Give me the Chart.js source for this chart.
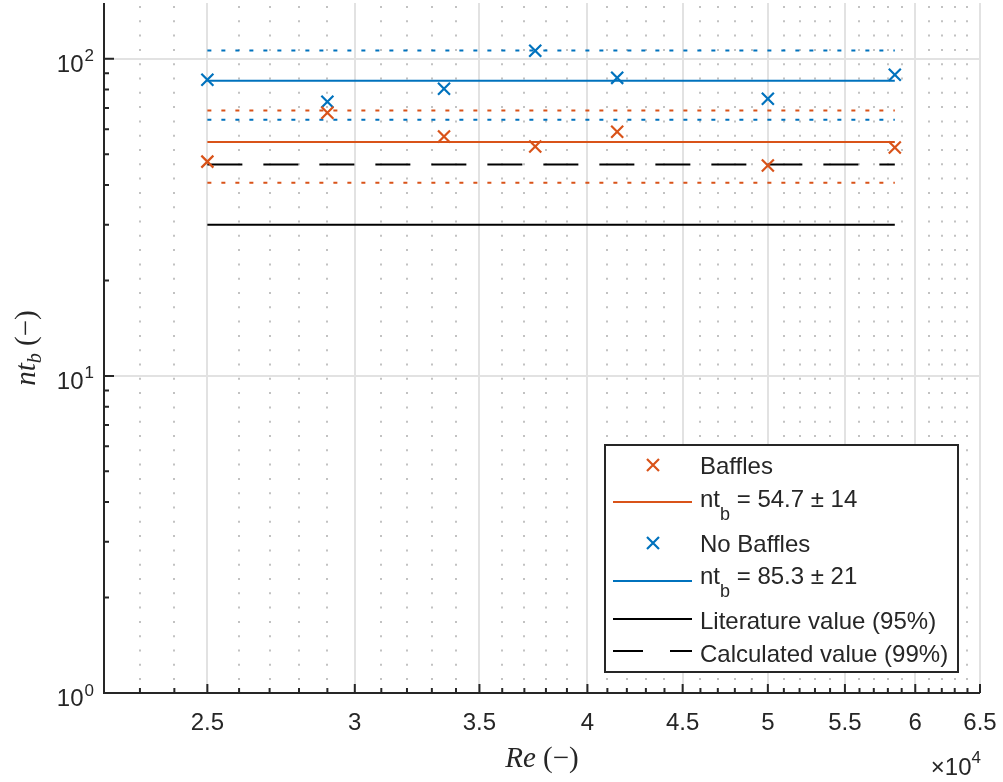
<!DOCTYPE html>
<html>
<head>
<meta charset="utf-8">
<script src="https://cdn.jsdelivr.net/npm/chart.js@4.4.1/dist/chart.umd.min.js"></script>
<style>
  html, body { margin: 0; padding: 0; background: #fff; }
  #wrap { position: relative; width: 1003px; height: 782px; }
  #chart { position: absolute; left: 0; top: 0; }
  #overlay { position: absolute; left: 0; top: 0; pointer-events: none; }
</style>
</head>
<body>
<div id="wrap">
  <canvas id="chart" width="1003" height="782"></canvas>
  <svg id="overlay" width="1003" height="782" xmlns="http://www.w3.org/2000/svg"></svg>
</div>
<script>
// Reynolds numbers of the runs
const re = [25000, 29000, 33500, 37500, 41500, 50000, 58500];
// nt_b
const baffles = [47.4, 67.6, 56.9, 52.9, 58.9, 46.1, 52.5];
const noBaffles = [85.9, 73.2, 80.5, 106.0, 87.1, 74.8, 89.1];

const baffleMean = 54.7, baffleStd = 14;
const noBaffleMean = 85.3, noBaffleStd = 21;
const literatureValue = 30;
const calculatedValue = 46.4;

// axes
const xMin = 22000, xMax = 65000;
const yMin = 1, yMax = 150;
const xMajor = [25000, 30000, 35000, 40000, 45000, 50000, 55000, 60000, 65000];
const xMinor = [22000, 23000, 24000, 26000, 27000, 28000, 29000, 31000, 32000, 33000, 34000,
  36000, 37000, 38000, 39000, 41000, 42000, 43000, 44000, 46000, 47000, 48000, 49000,
  51000, 52000, 53000, 54000, 56000, 57000, 58000, 59000, 61000, 62000, 63000, 64000];
const yMajor = [1, 10, 100];
const yMajorExp = ['0', '1', '2'];
const yMinor = [2, 3, 4, 5, 6, 7, 8, 9, 20, 30, 40, 50, 60, 70, 80, 90];

const ORANGE = '#D95319', BLUE = '#0072BD', INK = '#262626';

const hline = (v) => [{x: re[0], y: v}, {x: re[re.length - 1], y: v}];
const pts = (ys) => re.map((x, i) => ({x: x, y: ys[i]}));

function lineSet(label, v, color, dash) {
  return {
    label: label, data: hline(v), showLine: true, pointRadius: 0,
    borderColor: color, borderWidth: 2, borderDash: dash || [], order: 2
  };
}
function markSet(label, ys, color) {
  return {
    label: label, data: pts(ys), showLine: false, pointStyle: 'crossRot',
    pointRadius: 8.5, pointHoverRadius: 8.5, borderColor: color, backgroundColor: color,
    pointBorderWidth: 2.2, order: 1
  };
}

function noPad(scale) {
  scale.paddingLeft = 0; scale.paddingRight = 0;
  scale.paddingTop = 0; scale.paddingBottom = 0;
}

// grid, ticks, axis lines and y labels in the MATLAB look
const matlabAxes = {
  id: 'matlabAxes',
  beforeDatasetsDraw(chart) {
    const {ctx, chartArea: a, scales: {x, y}} = chart;
    ctx.save();
    ctx.strokeStyle = '#c2c2c2';
    ctx.lineWidth = 2;
    ctx.setLineDash([2, 12.3]);
    xMinor.forEach(v => {
      const px = Math.round(x.getPixelForValue(v));
      ctx.beginPath(); ctx.moveTo(px, a.top + 3); ctx.lineTo(px, a.bottom); ctx.stroke();
    });
    ctx.setLineDash([]);
    ctx.strokeStyle = '#e2e2e2';
    xMajor.forEach(v => {
      const px = Math.round(x.getPixelForValue(v));
      ctx.beginPath(); ctx.moveTo(px, a.top); ctx.lineTo(px, a.bottom); ctx.stroke();
    });
    yMajor.slice(1).forEach(v => {
      const py = Math.round(y.getPixelForValue(v));
      ctx.beginPath(); ctx.moveTo(a.left, py); ctx.lineTo(a.right, py); ctx.stroke();
    });
    ctx.restore();
  },
  afterDatasetsDraw(chart) {
    const {ctx, chartArea: a, scales: {x, y}} = chart;
    ctx.save();
    ctx.strokeStyle = INK;
    ctx.lineWidth = 2;
    ctx.beginPath();
    ctx.moveTo(a.left, a.top); ctx.lineTo(a.left, a.bottom); ctx.lineTo(a.right, a.bottom);
    ctx.stroke();
    ctx.beginPath();
    yMajor.forEach(v => { const py = y.getPixelForValue(v); ctx.moveTo(a.left, py); ctx.lineTo(a.left + 10, py); });
    yMinor.forEach(v => { const py = y.getPixelForValue(v); ctx.moveTo(a.left, py); ctx.lineTo(a.left + 5, py); });
    xMajor.forEach(v => { const px = x.getPixelForValue(v); ctx.moveTo(px, a.bottom); ctx.lineTo(px, a.bottom - 9); });
    xMinor.forEach(v => { const px = x.getPixelForValue(v); ctx.moveTo(px, a.bottom); ctx.lineTo(px, a.bottom - 5); });
    ctx.stroke();

    // y labels 10^n
    ctx.fillStyle = INK;
    ctx.textAlign = 'right';
    ctx.textBaseline = 'alphabetic';
    yMajor.forEach((v, i) => {
      const py = y.getPixelForValue(v);
      ctx.font = '17px "Liberation Sans", Arial, sans-serif';
      const w = ctx.measureText(yMajorExp[i]).width;
      ctx.fillText(yMajorExp[i], 94, py + 2.5);
      ctx.font = '24px "Liberation Sans", Arial, sans-serif';
      ctx.fillText('10', 94 - w - 1, py + 13);
    });
    ctx.restore();
  }
};

Chart.defaults.font.family = '"Liberation Sans", Arial, sans-serif';
Chart.defaults.color = INK;

new Chart(document.getElementById('chart'), {
  type: 'scatter',
  data: {
    datasets: [
      markSet('Baffles', baffles, ORANGE),
      lineSet('Baffles mean', baffleMean, ORANGE),
      markSet('No Baffles', noBaffles, BLUE),
      lineSet('No Baffles mean', noBaffleMean, BLUE),
      lineSet('Literature value (95%)', literatureValue, '#000'),
      lineSet('Calculated value (99%)', calculatedValue, '#000', [35, 21]),
      lineSet('Baffles +std', baffleMean + baffleStd, ORANGE, [4, 10]),
      lineSet('Baffles -std', baffleMean - baffleStd, ORANGE, [4, 10]),
      lineSet('No Baffles +std', noBaffleMean + noBaffleStd, BLUE, [4, 10]),
      lineSet('No Baffles -std', noBaffleMean - noBaffleStd, BLUE, [4, 10])
    ]
  },
  options: {
    responsive: false,
    animation: false,
    devicePixelRatio: 1,
    layout: { autoPadding: false, padding: { top: 3, right: 23, left: 0, bottom: 0 } },
    plugins: { legend: { display: false }, tooltip: { enabled: false } },
    scales: {
      x: {
        type: 'logarithmic', min: xMin, max: xMax,
        grid: { display: false, drawTicks: false },
        border: { display: false },
        afterBuildTicks: (scale) => {
          scale.ticks = xMajor.map(v => ({ value: v }));
        },
        afterFit: (scale) => { scale.height = 89; noPad(scale); },
        ticks: {
          autoSkip: false, maxRotation: 0, padding: 16,
          font: { size: 24 },
          callback: (v) => String(v / 1e4)
        }
      },
      y: {
        type: 'logarithmic', min: yMin, max: yMax,
        grid: { display: false, drawTicks: false },
        border: { display: false },
        ticks: { display: false },
        afterFit: (scale) => { scale.width = 104; noPad(scale); }
      }
    }
  },
  plugins: [matlabAxes]
});

// legend, axis titles and exponent as SVG text
const svg = document.getElementById('overlay');
svg.innerHTML = `
  <g font-family="Liberation Sans, Arial, sans-serif" fill="${INK}">
    <rect x="605" y="445" width="353" height="227" fill="#fff" stroke="${INK}" stroke-width="2"/>
    <g stroke-width="2" fill="none">
      <path d="M647 459 L659 471 M659 459 L647 471" stroke="${ORANGE}" stroke-width="2.2"/>
      <line x1="613" y1="502" x2="692" y2="502" stroke="${ORANGE}"/>
      <path d="M647 537 L659 549 M659 537 L647 549" stroke="${BLUE}" stroke-width="2.2"/>
      <line x1="613" y1="581" x2="692" y2="581" stroke="${BLUE}"/>
      <line x1="613" y1="619" x2="692" y2="619" stroke="#000"/>
      <line x1="613" y1="651" x2="643" y2="651" stroke="#000"/>
      <line x1="670" y1="651" x2="692" y2="651" stroke="#000"/>
    </g>
    <g font-size="24">
      <text x="700" y="474">Baffles</text>
      <text x="700" y="507">nt<tspan dy="13" font-size="18">b</tspan><tspan dy="-13"> = 54.7 ± 14</tspan></text>
      <text x="700" y="552">No Baffles</text>
      <text x="700" y="584">nt<tspan dy="13" font-size="18">b</tspan><tspan dy="-13"> = 85.3 ± 21</tspan></text>
      <text x="700" y="629">Literature value (95%)</text>
      <text x="700" y="662">Calculated value (99%)</text>
    </g>
    <text x="981" y="775" text-anchor="end" font-size="24">×10<tspan dy="-12" font-size="17">4</tspan></text>
  </g>
  <g font-family="Liberation Serif, Times New Roman, serif" fill="${INK}" font-size="29">
    <text x="542" y="767" text-anchor="middle"><tspan font-style="italic">Re</tspan> (−)</text>
    <text transform="translate(35 348) rotate(-90)" text-anchor="middle"><tspan font-style="italic">nt</tspan><tspan font-style="italic" font-size="20" dy="6">b</tspan><tspan dy="-6"> (−)</tspan></text>
  </g>
`;
</script>
</body>
</html>
